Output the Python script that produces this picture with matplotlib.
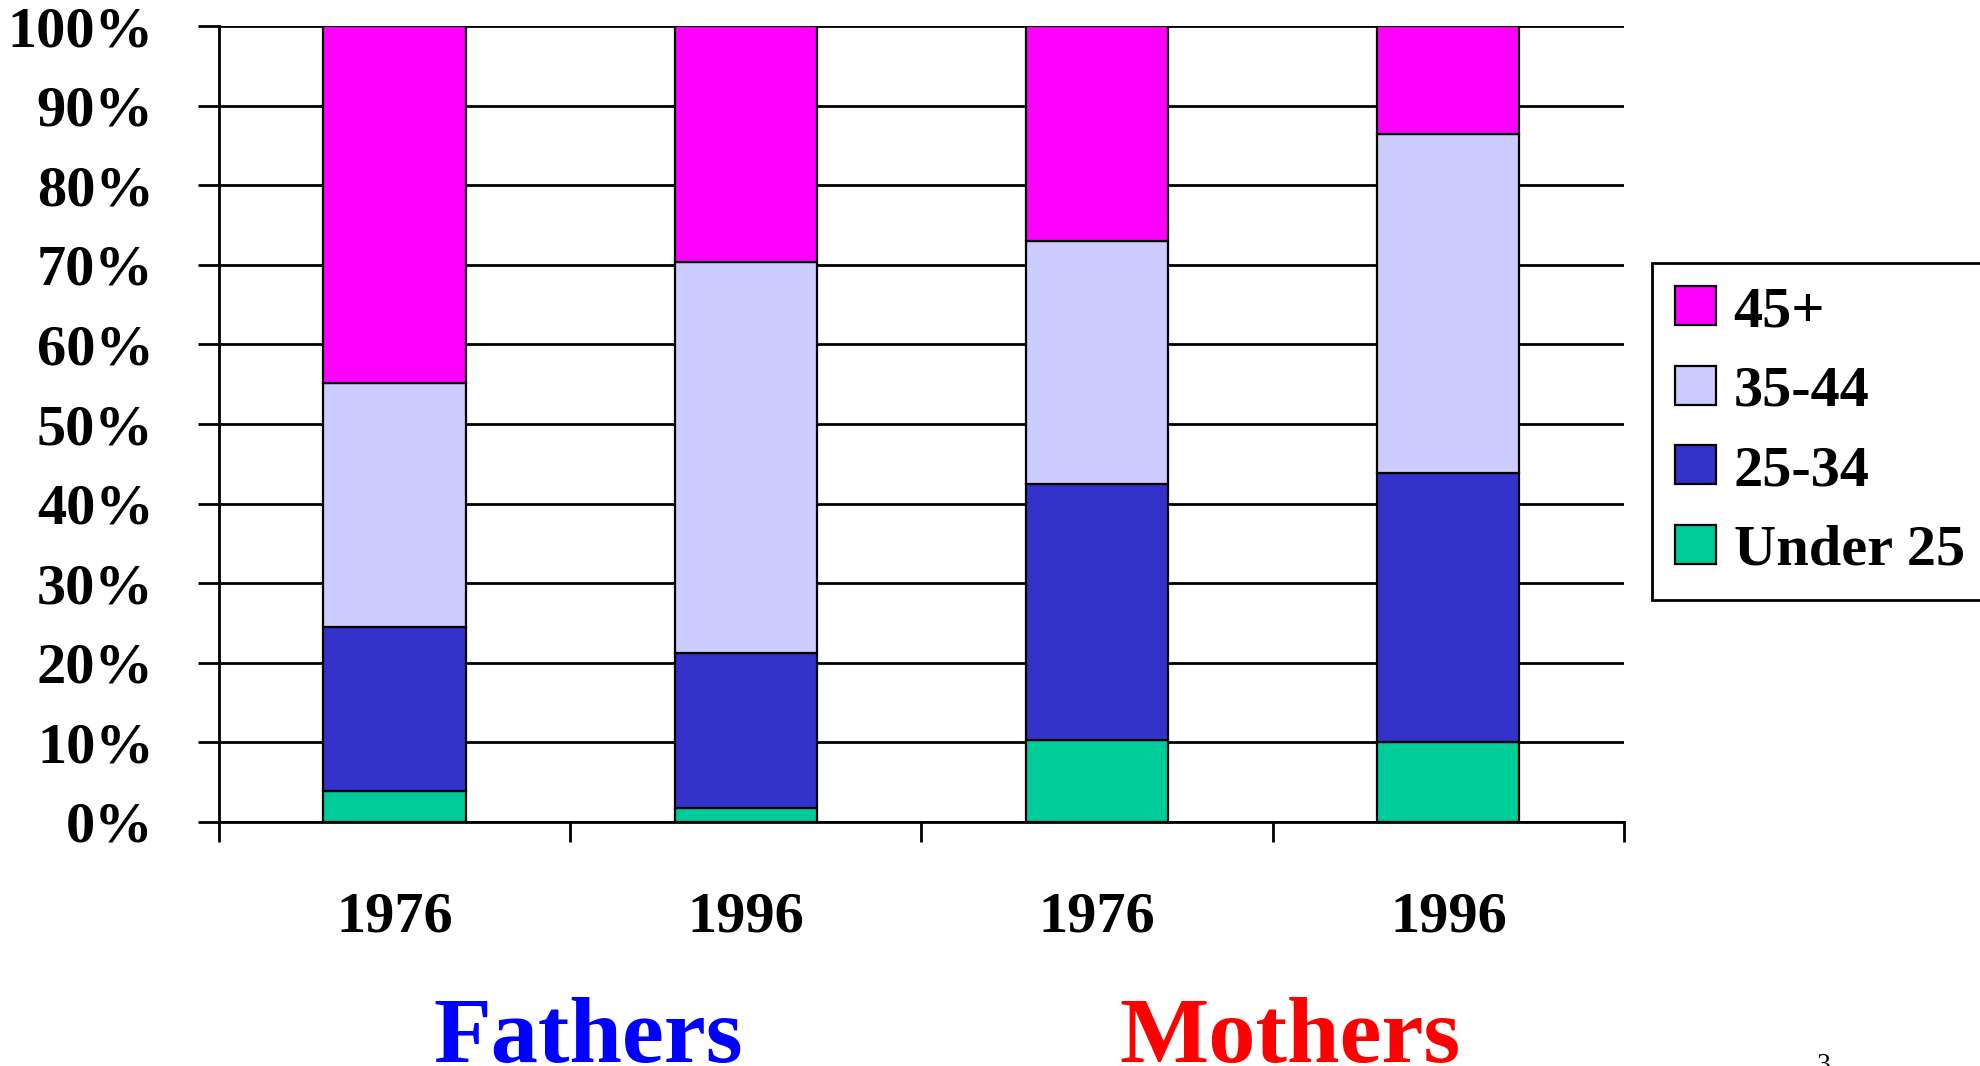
"""Age of parents at birth, 1976 vs 1996: stacked 100% bars for fathers and mothers."""

import matplotlib as mpl
import matplotlib.pyplot as plt
from matplotlib.patches import Patch

mpl.rcParams["font.family"] = ["Liberation Serif", "DejaVu Serif"]
mpl.rcParams["font.weight"] = "bold"

years = ["1976", "1996", "1976", "1996"]
groups = ["Fathers", "Mothers"]
age_bands = ["Under 25", "25-34", "35-44", "45+"]

# share of births (%) per age band, in the order of `years`
under_25 = [3.9, 1.7, 10.3, 10.1]
age_25_34 = [20.6, 19.5, 32.1, 33.8]
age_35_44 = [30.7, 49.2, 30.6, 42.5]
age_45_plus = [44.8, 29.6, 27.0, 13.6]

colors = ["#00CC99", "#3333CC", "#CCCCFF", "#FF00FF"]
group_colors = ["#0000FF", "#FF0000"]


def main():
    fig = plt.figure(figsize=(19.8, 10.66), dpi=100)
    ax = fig.add_axes([0.1106, 0.2289, 0.7096, 0.7467])

    x = list(range(len(years)))
    series = [under_25, age_25_34, age_35_44, age_45_plus]
    bottom = [0.0] * len(years)
    for vals, col in zip(series, colors):
        ax.bar(x, vals, width=0.405, bottom=bottom, color=col,
               edgecolor="black", linewidth=1.6, zorder=3)
        bottom = [b + v for b, v in zip(bottom, vals)]

    ax.set_xlim(-0.5, len(years) - 0.5)
    ax.set_ylim(0, 100)
    ax.set_yticks(range(0, 101, 10))
    ax.set_yticklabels([f"{v}%" for v in range(0, 101, 10)])
    ax.yaxis.grid(True, color="black", linewidth=2, zorder=0)
    ax.set_axisbelow(True)

    ax.set_xticks(x)
    ax.set_xticklabels(years)
    ax.set_xticks([i - 0.5 for i in range(len(years) + 1)], minor=True)
    ax.tick_params(axis="x", which="major", length=0, pad=50, labelsize=42)
    ax.tick_params(axis="x", which="minor", length=14.5, width=2, direction="out")
    ax.tick_params(axis="y", length=15, width=2, direction="out", pad=32,
                   labelsize=42)

    for side in ["top", "right"]:
        ax.spines[side].set_visible(False)
    for side in ["left", "bottom"]:
        ax.spines[side].set_linewidth(2)

    fig.text(588 / 1980, 0.004, groups[0], color=group_colors[0], fontsize=68,
             ha="center", va="baseline")
    fig.text(1290 / 1980, 0.004, groups[1], color=group_colors[1], fontsize=68,
             ha="center", va="baseline")
    fig.text(1823 / 1980, 1 - 1053 / 1066, "3", fontsize=20, fontweight="normal",
             ha="center", va="top")

    handles = [Patch(facecolor=c, edgecolor="black", linewidth=1.6)
               for c in colors][::-1]
    leg = fig.legend(handles, age_bands[::-1], loc="upper left",
                     bbox_to_anchor=(1652 / 1980, 1 - 263 / 1066),
                     bbox_transform=fig.transFigure, fontsize=42,
                     frameon=True, fancybox=False, framealpha=1,
                     edgecolor="black", borderaxespad=0, borderpad=0.4,
                     handlelength=0.7, handleheight=0.65, handletextpad=0.3,
                     labelspacing=0.47)
    leg.get_frame().set_linewidth(2)

    fig.savefig("out.png", dpi=100)
    plt.close(fig)


if __name__ == "__main__":
    main()
